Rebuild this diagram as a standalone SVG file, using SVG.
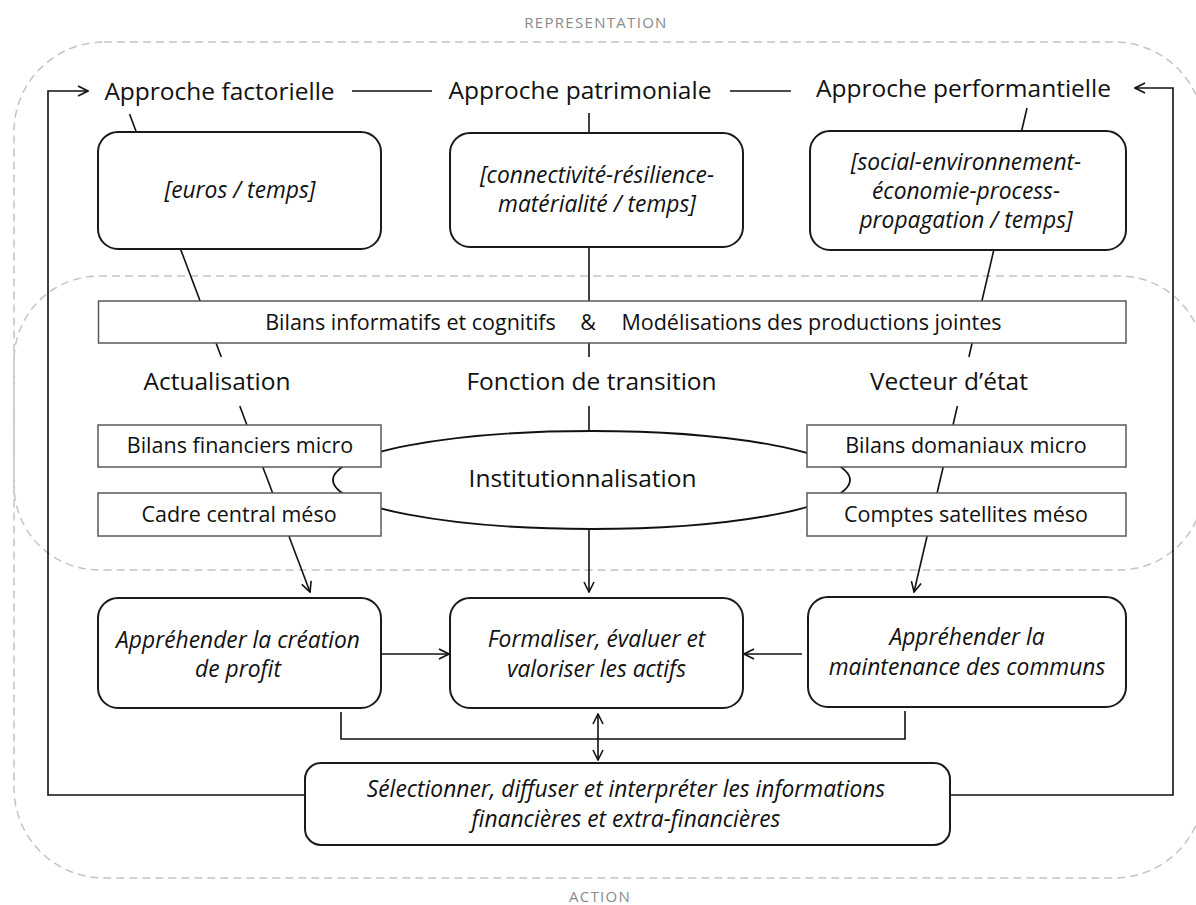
<svg xmlns="http://www.w3.org/2000/svg" width="1196" height="905" viewBox="0 0 1196 905">
<style>
.t{font-family:'Open Sans','Liberation Sans',sans-serif;fill:#111;text-anchor:middle}
.big{font-size:24.5px}
.mid{font-size:21.5px}
.it{font-size:22.8px;font-style:italic}
.lbl{font-family:'Open Sans','Liberation Sans',sans-serif;font-size:15px;fill:#8a8a8a;letter-spacing:1.3px;text-anchor:middle}
.rb{fill:#fff;stroke:#1a1a1a;stroke-width:2}
.sb{fill:#fff;stroke:#5a5a5a;stroke-width:1.5}
.c{fill:none;stroke:#111;stroke-width:1.6}
.fr{fill:none;stroke:#c4c4c4;stroke-width:1.5;stroke-dasharray:8 5}
</style>
<defs>
<marker id="ah" viewBox="0 0 12 12" refX="11" refY="6" markerWidth="12" markerHeight="12" markerUnits="userSpaceOnUse" orient="auto-start-reverse">
<path d="M1,1 L11,6 L1,11" fill="none" stroke="#111" stroke-width="1.6"/>
</marker>
</defs>
<rect width="1196" height="905" fill="#fff"/>
<g id="frames">
<rect class="fr" x="14" y="42" width="1190" height="836" rx="90" ry="90"/>
<rect class="fr" x="14" y="276" width="1190" height="294" rx="85" ry="85"/>
<text class="lbl" x="596" y="28">REPRESENTATION</text>
<text class="lbl" x="600" y="902">ACTION</text>
</g>
<g id="connectors">
<polyline class="c" points="305,795 48,795 48,91 88,91" marker-end="url(#ah)"/>
<polyline class="c" points="950,795 1173,795 1173,88 1135,88" marker-end="url(#ah)"/>
<line class="c" x1="352" y1="91" x2="432" y2="91"/>
<line class="c" x1="730" y1="91" x2="791" y2="91"/>
<line class="c" x1="129.5" y1="114" x2="136.3" y2="132"/>
<line class="c" x1="180.5" y1="249" x2="200.1" y2="301"/>
<line class="c" x1="216" y1="343" x2="221.3" y2="357"/>
<line class="c" x1="239.8" y1="406" x2="246.9" y2="425"/>
<line class="c" x1="262.8" y1="467" x2="272.6" y2="493"/>
<line class="c" x1="288.9" y1="536" x2="310" y2="592" marker-end="url(#ah)"/>
<line class="c" x1="589" y1="113" x2="589" y2="133"/>
<line class="c" x1="589" y1="247" x2="589" y2="301"/>
<line class="c" x1="589" y1="343" x2="589" y2="357"/>
<line class="c" x1="589" y1="406" x2="589" y2="432"/>
<line class="c" x1="589" y1="529" x2="589" y2="592" marker-end="url(#ah)"/>
<line class="c" x1="1027" y1="108" x2="1021.6" y2="131"/>
<line class="c" x1="993.8" y1="250" x2="981.9" y2="301"/>
<line class="c" x1="972.1" y1="343" x2="968.9" y2="357"/>
<line class="c" x1="957.4" y1="406" x2="953" y2="425"/>
<line class="c" x1="943.2" y1="467" x2="937.1" y2="493"/>
<line class="c" x1="927.1" y1="536" x2="914" y2="592" marker-end="url(#ah)"/>
<line class="c" x1="381" y1="654" x2="449" y2="654" marker-end="url(#ah)"/>
<line class="c" x1="802" y1="654" x2="744" y2="654" marker-end="url(#ah)"/>
<polyline class="c" points="341,712 341,739 905,739 905,711"/>
<line class="c" x1="598" y1="714" x2="598" y2="760" marker-start="url(#ah)" marker-end="url(#ah)"/>
</g>
<g id="title-factorielle"><text class="t big" x="219.5" y="100">Approche factorielle</text></g>
<g id="title-patrimoniale"><text class="t big" x="580" y="99">Approche patrimoniale</text></g>
<g id="title-performantielle"><text class="t big" x="963.5" y="97">Approche performantielle</text></g>
<g id="box-euros"><rect class="rb" x="98" y="132" width="283" height="117" rx="20"/>
<text class="t it" x="240" y="198">[euros / temps]</text></g>
<g id="box-connectivite"><rect class="rb" x="450" y="133" width="293" height="114" rx="20"/>
<text class="t it" x="597" y="183">[connectivité-résilience-</text>
<text class="t it" x="597" y="212">matérialité / temps]</text></g>
<g id="box-social"><rect class="rb" x="810" y="131" width="316" height="119" rx="20"/>
<text class="t it" x="966" y="170">[social-environnement-</text>
<text class="t it" x="966" y="199">économie-process-</text>
<text class="t it" x="966" y="228">propagation / temps]</text></g>
<g id="band-bilans"><rect class="sb" x="98.5" y="301" width="1027.5" height="42"/>
<text class="t mid" x="410.5" y="330">Bilans informatifs et cognitifs</text>
<text class="t mid" x="588" y="330">&amp;</text>
<text class="t mid" x="811.5" y="330">Modélisations des productions jointes</text></g>
<g id="label-actualisation"><text class="t big" x="217" y="390">Actualisation</text></g>
<g id="label-fonction"><text class="t big" x="591.5" y="390">Fonction de transition</text></g>
<g id="label-vecteur"><text class="t big" x="949" y="390">Vecteur d’état</text></g>
<g id="ellipse-institutionnalisation"><ellipse cx="591.5" cy="480" rx="258.5" ry="49" fill="#fff" stroke="#111" stroke-width="1.8"/>
<text class="t big" x="582.5" y="487">Institutionnalisation</text></g>
<g id="box-bilans-financiers"><rect class="sb" x="98" y="425" width="283" height="42"/>
<text class="t mid" x="240" y="453">Bilans financiers micro</text></g>
<g id="box-cadre-central"><rect class="sb" x="98" y="493" width="283" height="43"/>
<text class="t mid" x="239" y="522">Cadre central méso</text></g>
<g id="box-bilans-domaniaux"><rect class="sb" x="807" y="425" width="319" height="42"/>
<text class="t mid" x="966" y="453">Bilans domaniaux micro</text></g>
<g id="box-comptes-satellites"><rect class="sb" x="807" y="493" width="319" height="43"/>
<text class="t mid" x="966" y="522">Comptes satellites méso</text></g>
<g id="box-profit"><rect class="rb" x="98" y="598" width="283" height="110" rx="20"/>
<text class="t it" x="238" y="648">Appréhender la création</text>
<text class="t it" x="238" y="677">de profit</text></g>
<g id="box-formaliser"><rect class="rb" x="450" y="598" width="293" height="110" rx="20"/>
<text class="t it" x="596.5" y="647">Formaliser, évaluer et</text>
<text class="t it" x="596.5" y="677">valoriser les actifs</text></g>
<g id="box-communs"><rect class="rb" x="808" y="597" width="318" height="110" rx="20"/>
<text class="t it" x="967" y="645">Appréhender la</text>
<text class="t it" x="967" y="675">maintenance des communs</text></g>
<g id="box-selectionner"><rect class="rb" x="305" y="763" width="645" height="82" rx="16"/>
<text class="t it" x="626" y="797">Sélectionner, diffuser et interpréter les informations</text>
<text class="t it" x="626" y="827">financières et extra-financières</text></g>
</svg>
